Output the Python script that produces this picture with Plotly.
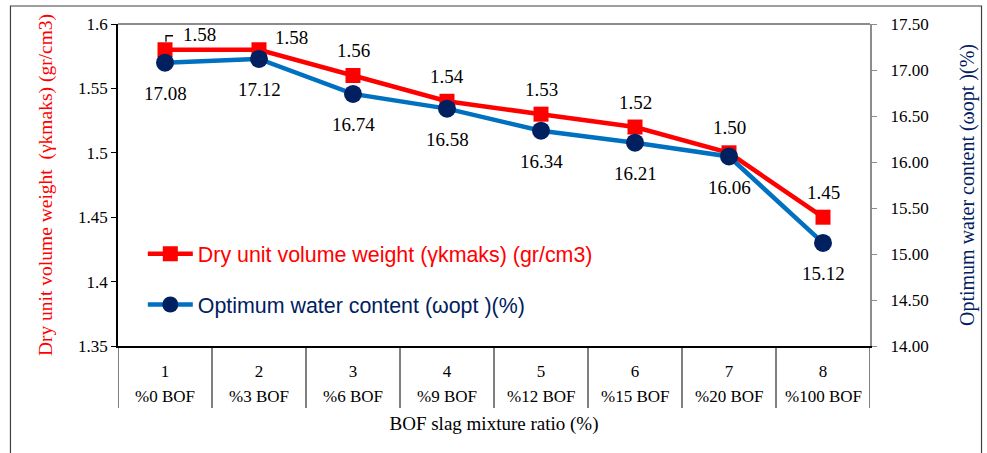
import plotly.graph_objects as go

nums = ["1", "2", "3", "4", "5", "6", "7", "8"]
bof = ["%0 BOF", "%3 BOF", "%6 BOF", "%9 BOF", "%12 BOF", "%15 BOF", "%20 BOF", "%100 BOF"]
dry_weight = [1.58, 1.58, 1.56, 1.54, 1.53, 1.52, 1.50, 1.45]
water = [17.08, 17.12, 16.74, 16.58, 16.34, 16.21, 16.06, 15.12]

RED = "#FF0000"
BLUE = "#0070C0"
NAVY = "#002060"
SERIF = "Liberation Serif, Times New Roman, serif"
SANS = "Liberation Sans, Arial, sans-serif"

fig = go.Figure()
fig.add_trace(go.Scatter(
    x=nums, y=dry_weight, mode="lines+markers",
    name="<span style='color:#FF0000'>Dry unit volume weight (γkmaks) (gr/cm3)</span>",
    line=dict(color=RED, width=4.5),
    marker=dict(symbol="square", size=15, color=RED),
    legendgroup="a", yaxis="y",
))
fig.add_trace(go.Scatter(
    x=nums, y=water, mode="lines+markers",
    name="<span style='color:#002060'>Optimum water content (ωopt )(%)</span>",
    line=dict(color=BLUE, width=4.5),
    marker=dict(symbol="circle", size=18, color=NAVY),
    legendgroup="b", yaxis="y2",
))

ann = []
red_shift = {0: (34, 15), 1: (32, 12)}
for i, v in enumerate(dry_weight):
    xs, ys = red_shift.get(i, (0, 25))
    ann.append(dict(x=i, y=v, xref="x", yref="y", text=f"{v:.2f}", showarrow=False,
                    xshift=xs, yshift=ys, font=dict(family=SERIF, size=19, color="#000")))
for i, v in enumerate(water):
    ann.append(dict(x=i, y=v, xref="x", yref="y2", text=f"{v:.2f}", showarrow=False,
                    yshift=-31, font=dict(family=SERIF, size=19, color="#000")))
# second level of category labels
for i, lab in enumerate(bof):
    ann.append(dict(x=i, y=-0.158, xref="x", yref="paper", text=lab, showarrow=False,
                    yanchor="middle", font=dict(family=SERIF, size=17, color="#000")))

shapes = [
    # outer frame
    dict(type="rect", xref="paper", yref="paper", x0=-0.143, x1=1.1483, y0=-0.36, y1=1.0559,
         line=dict(color="#404040", width=1.2), layer="below"),
    # top border of plot area
    dict(type="line", xref="paper", yref="paper", x0=0, x1=1, y0=1, y1=1,
         line=dict(color="#8C8C8C", width=2)),
    # leader line for first label
    dict(type="path", xref="x", yref="y", xsizemode="pixel", ysizemode="pixel",
         xanchor=0, yanchor=dry_weight[0], path="M 1 8 L 1 14 L 8 14",
         line=dict(color="#000", width=1.3)),
]
# category dividers below the axis
for i in range(len(nums) + 1):
    shapes.append(dict(type="line", xref="x", yref="paper", x0=i - 0.5, x1=i - 0.5,
                       y0=0, y1=-0.1925, line=dict(color="#000", width=1)))

fig.update_layout(
    width=987, height=453,
    margin=dict(l=118, r=114, t=24, b=107),
    paper_bgcolor="white", plot_bgcolor="white",
    font=dict(family=SERIF, size=17, color="#000"),
    showlegend=True,
    legend=dict(x=0.033, y=0.35, xanchor="left", yanchor="top", itemwidth=45,
                bgcolor="rgba(0,0,0,0)", font=dict(family=SANS, size=21.4),
                tracegroupgap=20, traceorder="grouped"),
    xaxis=dict(
        type="category", range=[-0.5, len(nums) - 0.5], showgrid=False,
        showline=True, linecolor="#000", linewidth=1.5,
        ticks="outside", ticklen=9, tickcolor="rgba(0,0,0,0)",
        tickfont=dict(family=SERIF, size=17, color="#000"),
        title=dict(text="BOF slag mixture ratio (%)", font=dict(family=SERIF, size=19, color="#000"),
                   standoff=37),
    ),
    yaxis=dict(
        range=[1.35, 1.6], dtick=0.05, showgrid=False, zeroline=False,
        showline=True, linecolor="#000", linewidth=1.5, ticks="outside", ticklen=5,
        tickcolor="#000", tickfont=dict(family=SERIF, size=17, color="#000"),
        title=dict(text="Dry unit volume weight  (γkmaks) (gr/cm3)",
                   font=dict(family=SERIF, size=19.5, color=RED), standoff=20),
    ),
    yaxis2=dict(
        range=[14.0, 17.5], dtick=0.5, tickformat=".2f", overlaying="y", side="right",
        showgrid=False, zeroline=False, showline=True, linecolor="#8C8C8C", linewidth=2,
        ticks="outside", ticklen=5, tickcolor="#8C8C8C", ticklabelstandoff=10,
        tickfont=dict(family=SERIF, size=17, color="#000"),
        title=dict(text="Optimum water content (ωopt )(%)",
                   font=dict(family=SERIF, size=20, color=NAVY), standoff=32),
    ),
    annotations=ann,
    shapes=shapes,
)

fig.write_html("out.html")
